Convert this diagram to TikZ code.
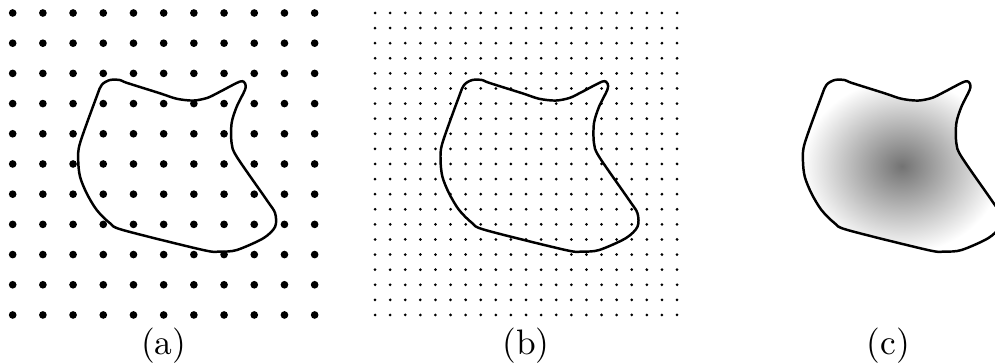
\documentclass[tikz,border=0pt]{standalone}
\begin{document}
\begin{tikzpicture}[x=0.3cm,y=0.3cm,
  bigdot/.style={fill=black},
  smalldot/.style={fill=black},
  outline/.style={line width=0.7pt},
  lbl/.style={anchor=base, inner sep=0pt}]
\useasboundingbox (-0.42,-1.59) rectangle (32.53,10.43);
\def\blob{plot[smooth cycle, tension=0.5] coordinates {(2.95,7.62) (3.22,7.78) (3.55,7.78) (3.77,7.69) (4.88,7.34) (5.43,7.16) (5.98,7.10) (6.45,7.19) (6.86,7.39) (7.53,7.73) (7.70,7.66) (7.69,7.45) (7.42,6.90) (7.25,6.35) (7.25,5.69) (7.42,5.24) (8.41,3.81) (8.69,3.37) (8.69,2.92) (8.30,2.54) (7.42,2.15) (6.86,2.10) (6.31,2.15) (3.66,2.81) (3.22,3.04) (2.78,3.48) (2.45,4.03) (2.23,4.58) (2.17,5.13) (2.23,5.69) (2.78,7.23)}}
% (a)
\foreach \i in {0,...,10} \foreach \j in {0,...,10} \fill[bigdot] (\i,\j) circle (0.127);
\draw[outline] \blob;
\node[lbl] (la) at (5,-1.325) {(a)};
% (b)
\begin{scope}[shift={(12,0)}]
\foreach \i in {0,...,20} \foreach \j in {0,...,20} \fill[smalldot] (\i*0.5,\j*0.5) circle (0.05);
\draw[outline] \blob;
\node[lbl] (lb) at (5,-1.325) {(b)};
\end{scope}
% (c)
\begin{scope}[shift={(24,0)}]
\shadedraw[outline, inner color=black!55, outer color=white] \blob;
\node[lbl] (lc) at (5,-1.325) {(c)};
\end{scope}
\end{tikzpicture}
\end{document}
